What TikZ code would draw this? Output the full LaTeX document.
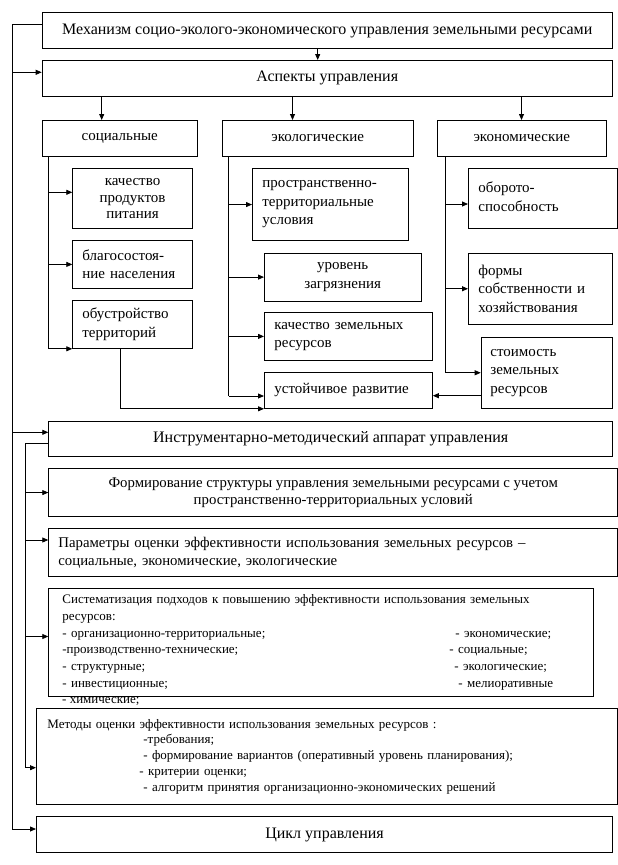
\documentclass[tikz,border=0pt]{standalone}
\usepackage{fontspec}
\setmainfont{Liberation Serif}
\usetikzlibrary{arrows.meta,calc}
\begin{document}
\begin{tikzpicture}[x=1pt,y=-1pt,
  box/.style={draw, line width=0.8pt, inner sep=0pt, anchor=north west, font=\fontsize{15}{18.5}\selectfont},
  big/.style={font=\fontsize{16}{19}\selectfont},
  mid/.style={font=\fontsize{14.8}{17.5}\selectfont},
  small/.style={font=\fontsize{13}{16.7}\selectfont},
  smallm/.style={font=\fontsize{13}{15.7}\selectfont},
  lft/.style={align=left, inner xsep=#1},
  ln/.style={line width=0.8pt},
  arr/.style={line width=0.8pt, -{Triangle[length=6pt,width=5pt]}},
]
\useasboundingbox (0,0) rectangle (618,865);

% top
\node[box, big, minimum width=570.3, minimum height=36, align=center] (mech) at (41.7,12.3) {Механизм социо-эколого-экономического управления земельными ресурсами};
\node[box, big, minimum width=570.3, minimum height=36, align=center] (asp) at (41.7,60) {Аспекты управления};
\node[box, minimum width=155.3, minimum height=36, align=center] (soc) at (41.7,120) {социальные};
\node[box, minimum width=191.3, minimum height=36, align=center] (eco) at (221.7,120) {экологические};
\node[box, minimum width=168.7, minimum height=36, align=center] (econ) at (437,120) {экономические};

% social
\node[box, minimum width=119.7, minimum height=59.7, align=center, font=\fontsize{15}{16.5}\selectfont] (s1) at (72.3,168.3) {качество\\продуктов\\питания};
\node[box, lft=9.7, text width=100.3, minimum height=48] (s2) at (72.3,240) {благосостоя-\\ние населения};
\node[box, lft=9.7, text width=100.3, minimum height=48] (s3) at (72.3,300) {обустройство\\территорий};

% ecological
\node[box, lft=10, text width=136, minimum height=71.7] (e1) at (252,168.3) {пространственно-\\территориальные\\условия};
\node[box, minimum width=156.7, minimum height=48, align=center] (e2) at (264,252.7) {уровень\\загрязнения};
\node[box, lft=10, text width=148, minimum height=48] (e3) at (264,312) {качество земельных\\ресурсов};
\node[box, lft=10, text width=148, minimum height=36] (e4) at (264,372) {устойчивое развитие};

% economic
\node[box, lft=10, text width=129, minimum height=59.7] (k1) at (468,168.3) {\raisebox{5pt}{\begin{tabular}{@{}l@{}}оборото-\\[0.5pt]способность\end{tabular}}};
\node[box, lft=10, text width=124, minimum height=71.3] (k2) at (468,252.7) {формы\\собственности и\\хозяйствования};
\node[box, lft=9.3, text width=112.7, minimum height=71.3] (k3) at (480.7,336.7) {стоимость\\земельных\\ресурсов};

% lower part
\node[box, big, minimum width=564, minimum height=35.3, align=center] (instr) at (48.3,420.7) {Инструментарно-методический аппарат управления};
\node[box, mid, minimum width=569, minimum height=47.7, align=center] (form) at (48.3,468.3) {Формирование структуры управления земельными ресурсами с учетом\\пространственно-территориальных условий};
\node[box, mid, lft=9.7, text width=549.6, minimum height=47.7] (param) at (48.3,528.3) {Параметры оценки эффективности использования земельных ресурсов –\\социальные, экономические, экологические};
\node[box, small, lft=13.7, text width=517.6, minimum height=107.4] (sys) at (48.3,588.3) {Систематизация подходов к повышению эффективности использования земельных\\ресурсов:\\\makebox[393pt][l]{- организационно-территориальные;}- экономические;\\\makebox[387pt][l]{-производственно-технические;}- социальные;\\\makebox[392pt][l]{- структурные;}- экологические;\\\makebox[396pt][l]{- инвестиционные;}- мелиоративные};
\node[small, anchor=west, inner sep=0pt] (chem) at (62,701.4) {- химические;};
\node[box, smallm, lft=11, text width=559.3, minimum height=95.7] (meth) at (36,708.3) {Методы оценки эффективности использования земельных ресурсов :\\\hspace*{96pt}-требования;\\\hspace*{96pt}- формирование вариантов (оперативный уровень планирования);\\\hspace*{92pt}- критерии оценки;\\\hspace*{96pt}- алгоритм принятия организационно-экономических решений};
\node[box, big, minimum width=576.3, minimum height=36.3, align=center] (cycle) at (36,816) {Цикл управления};

% coordinates
\coordinate (sTop) at (12.3,24.3);
\coordinate (sBot) at (12.3,829);
\coordinate (s2x) at (25,0);
\coordinate (aspTop) at ([xshift=276pt]asp.north west);
\coordinate (aspIn) at ([yshift=-12.3pt]asp.north west);
\coordinate (socIn) at ([xshift=60pt]soc.north west);
\coordinate (ecoIn) at ([xshift=70.8pt]eco.north west);
\coordinate (econIn) at ([xshift=84.5pt]econ.north west);
\coordinate (socL) at ([xshift=6.6pt]soc.south west);
\coordinate (ecoL) at ([xshift=7pt]eco.south west);
\coordinate (econL) at ([xshift=8pt]econ.south west);
\coordinate (s1in) at ([yshift=-24pt]s1.north west);
\coordinate (e4in) at ([yshift=-24pt]e4.north west);
\coordinate (k1in) at ([yshift=-35.7pt]k1.north west);
\coordinate (s3out) at ([xshift=47.7pt]s3.south west);
\coordinate (k3out) at ([yshift=-59pt]k3.north west);
\coordinate (instrIn) at ([yshift=-11.6pt]instr.north west);
\coordinate (instrOut) at ([yshift=-22.6pt]instr.north west);
\coordinate (paramIn) at ([yshift=-11.7pt]param.north west);
\coordinate (sysIn) at ([yshift=-48.2pt]sys.north west);
\coordinate (methIn) at ([yshift=-59.4pt]meth.north west);

% main spine
\draw[ln] ([yshift=-12pt]mech.north west) -- (sTop) -- (sBot);
\draw[arr] (sTop |- aspIn) -- (aspIn);
\draw[arr] (sTop |- instrIn) -- (instrIn);
\draw[arr] (sBot) -- (sBot -| cycle.west);

% top arrows
\draw[arr] (mech.south -| aspTop) -- (aspTop);
\draw[arr] (asp.south -| socIn) -- (socIn);
\draw[arr] (asp.south -| ecoIn) -- (ecoIn);
\draw[arr] (asp.south -| econIn) -- (econIn);

% social branch
\draw[ln] (socL) -- (socL |- s3.south);
\draw[arr] (socL |- s1in) -- (s1in);
\draw[arr] (socL |- s2.west) -- (s2.west);
\draw[arr] (socL |- s3.south) -- (s3.south west);
\draw[arr] (s3out) |- (e4.south west);

% ecological branch
\draw[ln] (ecoL) -- (ecoL |- e4in);
\draw[arr] (ecoL |- e1.west) -- (e1.west);
\draw[arr] (ecoL |- e2.west) -- (e2.west);
\draw[arr] (ecoL |- e3.west) -- (e3.west);
\draw[arr] (ecoL |- e4in) -- (e4in);

% economic branch
\draw[ln] (econL) -- (econL |- k3.west);
\draw[arr] (econL |- k1in) -- (k1in);
\draw[arr] (econL |- k2.west) -- (k2.west);
\draw[arr] (econL |- k3.west) -- (k3.west);
\draw[arr] (k3out) -- (k3out -| e4.east);

% instrument branch
\draw[arr] (instrOut) -- (s2x |- instrOut) -- (s2x |- methIn) -- (methIn);
\draw[arr] (s2x |- form.west) -- (form.west);
\draw[arr] (s2x |- paramIn) -- (paramIn);
\draw[arr] (s2x |- sysIn) -- (sysIn);
\end{tikzpicture}
\end{document}
